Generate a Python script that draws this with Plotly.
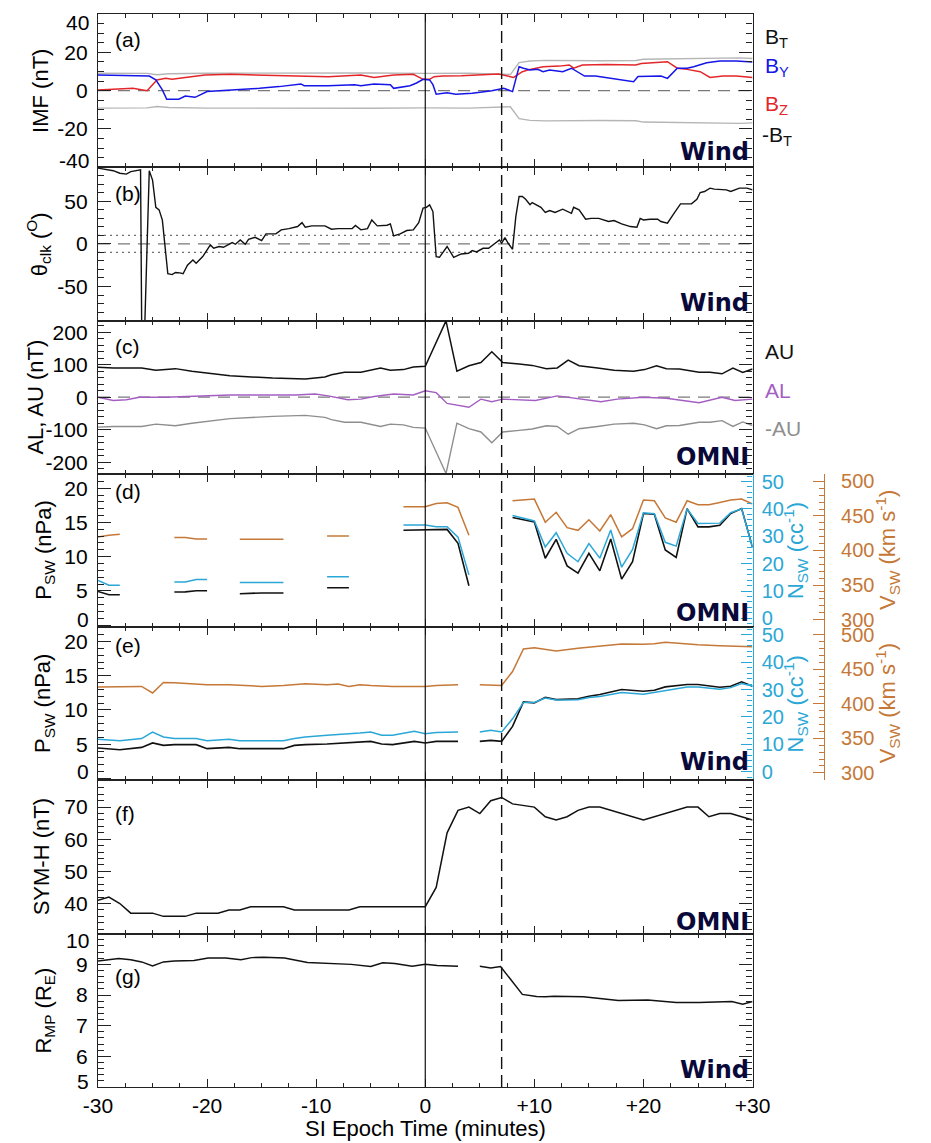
import plotly.graph_objects as go

# ---------------------------------------------------------------- data
# (a) IMF components from Wind (nT), minutes from SI epoch
by_t = [-30, -25.3, -24.7, -24.1, -23.7, -22.6, -22, -21.1, -20, -18.5, -16.7, -15.2, -13.4, -11.4,
        -11.1, -8.9, -6.5, -5.9, -4.7, -3.2, -2.9, -1.4, -0.8, -0.2, 0.4, 0.7, 1.0, 1.4, 2.0, 2.8,
        4.3, 6.1, 6.8, 7.2, 8.0, 8.6, 9.0, 9.6, 10.3, 10.8, 11.4, 12.6, 13.4, 14.6, 15.6, 16.7,
        17.7, 19.1, 19.5, 20.4, 21.6, 22.2, 23.1, 24.0, 24.6, 25.8, 27.0, 28.5, 30]
by = [8.2, 7.6, 5.6, 0.4, -4.5, -4.5, -2.8, -3.5, -0.5, 0.0, 0.4, 1.2, 2.1, 3.5,
      2.6, 2.6, 3.1, 2.6, 3.5, 3.1, 1.2, 2.6, 4.0, 5.9, 5.6, 3.1, -1.9, -1.7, -1.1, -1.9,
      -1.4, 0.0, 0.7, 1.2, -0.5, 12.5, 11.7, 10.8, 11.1, 9.9, 10.8, 9.9, 11.7, 7.6, 7.6, 6.8,
      5.9, 4.7, 7.4, 7.6, 7.6, 6.4, 11.7, 11.7, 12.5, 14.6, 15.5, 15.5, 15.0]

bz_t = [-30, -28.3, -26.8, -25.5, -25.0, -24.6, -23.8, -23.2, -22, -20.2, -17.8, -14.9, -11.9, -8.9,
        -5.9, -4.7, -2.9, -1.1, -0.2, 0.4, 0.8, 1.6, 3.3, 5.5, 6.7, 8.1, 8.9, 9.6, 10.8, 12.3,
        13.2, 13.6, 14.4, 16.6, 19.3, 19.8, 22.2, 23.1, 24.0, 25.2, 26.1, 27.3, 28.5, 30]
bz = [0.4, 0.7, 1.2, 0.0, 3.1, 5.6, 6.4, 5.9, 6.9, 8.2, 8.5, 8.2, 7.6, 7.3,
      8.2, 6.9, 8.2, 8.5, 5.9, 5.9, 7.3, 7.6, 7.8, 8.2, 8.7, 6.9, 9.9, 11.1, 12.5, 12.8,
      13.4, 11.7, 13.4, 13.7, 13.4, 14.2, 15.1, 11.7, 11.1, 9.9, 6.9, 7.6, 7.6, 6.9]

bt_t = [-30, -25.5, -24.6, -23.5, -20, -12, -5, 0, 4, 7.8, 8.6, 9.6, 11, 16, 19.3, 20, 25, 28.8, 30]
bt = [9.1, 9.0, 8.3, 8.8, 9.1, 9.3, 9.2, 9.0, 9.1, 8.4, 14.6, 15.5, 15.8, 15.6, 15.7, 16.4, 16.9, 17.1, 16.8]

# (b) IMF clock angle (deg)
clk_t = [-30.0, -29.2, -28.6, -28.0, -27.4, -27.0, -26.5, -26.1, -26.0, -25.7, -25.3, -25.0, -24.7,
         -24.4, -24.1, -23.85, -23.6, -23.2, -22.9, -22.5, -22.2, -21.8, -21.3, -21.0, -20.4, -19.7,
         -19.4, -18.9, -18.5, -17.7, -17.4, -16.96, -16.5, -16.2, -15.6, -15.0, -14.6, -13.7, -13.2,
         -12.5, -11.7, -11.3, -11.0, -10.4, -9.2, -8.6, -8.0, -6.7, -6.4, -5.9, -5.3, -4.9, -4.4,
         -3.5, -3.2, -2.9, -2.3, -1.7, -1.1, -0.6, -0.2, 0.1, 0.4, 0.7, 1.0, 1.3, 2.0, 2.6, 3.3,
         3.96, 4.3, 4.7, 5.3, 5.8, 6.4, 6.8, 7.0, 7.3, 7.6, 8.0, 8.3, 8.6, 8.9, 9.2, 9.6, 9.8,
         10.6, 11.0, 11.4, 11.9, 12.6, 13.4, 13.6, 14.1, 14.7, 15.2, 15.9, 16.8, 17.3, 18.0, 18.8,
         19.4, 19.7, 20.0, 20.6, 21.3, 21.6, 22.2, 22.8, 23.4, 24.4, 24.9, 25.2, 25.6, 26.1, 26.5,
         27.6, 28.0, 28.8, 29.5, 30.0]
clk = [89, 87, 86, 83, 82, 85, 86, 87, -90, -90, 86, 75, 43,
       40, 28, -7, -35, -36, -33.5, -34, -35, -25, -18.8, -22.7, -14.9, -1.2,
       -5, -3, -3.9, 1.6, -0.4, 4.7, -0.4, 5.5, 7.8, 3.9, 11.8, 11.8, 16.5,
       18, 20.4, 25, 19.6, 21.2, 21.2, 17.3, 18, 18, 21.6, 16.5, 18, 28.2, 21.2,
       22, 23.5, 9.4, 11.8, 15.7, 16.5, 25, 42, 43, 45.9, 38, -15, -15.7, -3, -15.7, -11.8,
       -11, -7.8, -9.4, -5.1, -5.1, 0.8, 4.7, 0.8, 7.5, 0.8, -6.3, 32, 55.7, 55.7, 52.5, 46, 48.6,
       43, 36.9, 39.2, 36.9, 40.8, 36, 43, 40, 29, 30, 30, 26.3, 27.5, 23.5, 20.4,
       19.6, 30, 28.2, 29, 29, 26.3, 24.3, 36, 47, 47, 52.5, 60.4, 61.6, 65.5, 64.3,
       63.5, 61.6, 65.5, 65.5, 63.5]

# (c) auroral electrojet indices, OMNI (nT)
au_t = [-30, -28.6, -26, -24.7, -22.9, -21.4, -17.9, -14, -11, -9.2, -8.6, -7.4, -5.9, -4.1, -3.2,
        -2, -1.1, 0, 1.9, 2.9, 4.0, 5.1, 6.1, 7.1, 8.6, 9.8, 11.1, 12.1, 13.1, 14.1, 15.8, 17.3,
        19.1, 20.1, 21.2, 22.1, 23.3, 25.1, 26.1, 27.2, 28.2, 29.1, 30]
au = [92, 90, 90, 83, 88, 80, 66, 59, 56, 62, 69, 77, 77, 90, 83,
      85, 93, 95, 235, 80, 97, 107, 140, 107, 102, 98, 88, 90, 114, 97, 90, 83,
      80, 85, 97, 88, 87, 77, 77, 72, 90, 76, 87]

al_t = [-30, -28.6, -27.4, -26.2, -23.8, -20.8, -17.9, -11.9, -10.1, -8.9, -7.1, -5.9, -4.7, -2.9,
        -1.1, 0, 1.0, 2.0, 3.0, 4.0, 5.1, 6.1, 7.1, 8.6, 10.1, 12.1, 13.1, 16.1, 17.6, 20.0, 22.1,
        25.1, 27.2, 28.4, 30]
al = [0, -10, -8, 0, 0, 4, 7, 7, 10, 4, -8, -6, 2, 10,
      7, 20, 14, -19, -25, -31, -6, -14, -6, -8, -10, 4, 0, -14, -6, 0, -3,
      -17, 0, -10, -6]

# (d) OMNI solar wind: pressure (nPa), density (cc^-1), speed (km/s); None marks a data gap
omni_t = [-30, -29, -28, -27, -23, -22, -21, -20, -19, -17, -16, -15, -14, -13, -12, -9, -8, -7, -6,
          -2, -1, 0, 1, 2, 3, 4, 5, 8, 9, 10, 11, 12, 13, 14, 15, 16, 17, 18, 19, 20, 21, 22, 23,
          24, 25, 26, 27, 28, 29, 30]
omni_p = [4.92, 4.44, 4.44, None, 4.84, 4.85, 5.02, 5.02, None, 4.59, 4.69, 4.69, 4.69, 4.69, None,
          5.46, 5.46, 5.46, None, 13.87, 13.87, 13.87, 13.87, 13.98, 11.95, 5.75, None, 15.72, 15.4,
          15.08, 9.77, 12.53, 8.65, 7.59, 10.49, 7.93, 12.57, 6.72, 9.28, 16.3, 16.2, 10.97, 9.9,
          17.02, 14.35, 14.35, 14.6, 16.3, 17.02, 11.36]
omni_n = [13.9, 12.1, 12.1, None, 13.3, 13.3, 14.2, 14.2, None, 13.1, 13.1, 13.1, 13.1, 13.1, None,
          15.2, 15.2, 15.2, None, 34.1, 34.1, 34.1, 33.5, 33.5, 29.7, 15.9, None, 37.6, 36.6,
          35.6, 26.1, 31.3, 23.8, 20.7, 27.3, 22.0, 32.3, 18.7, 25.2, 38.6, 38.2, 27.8, 26.4,
          40.0, 34.7, 34.7, 34.8, 38.6, 40.0, 25.8]
omni_v = [419.7, 422.2, 423.5, None, 418.8, 418.8, 416.8, 416.8, None, 416.4, 416.4, 416.4, 416.4,
          416.4, None, 421.1, 421.1, 421.1, None, 463.4, 463.4, 463.4, 468.1, 469.1, 462.4, 422.1,
          None, 472, 473.4, 474.4, 441, 455.3, 433.1, 429.2, 444.5, 428.2, 452, 419.7, 431.6,
          473, 472, 447.3, 441, 472, 466.3, 466.3, 469.5, 473, 474.4, 467.3]

# (e) Wind solar wind
wind_t = [-30, -28, -26, -25, -24, -23, -21, -20, -18, -17, -15, -13, -12, -11, -9, -8, -7, -6, -5,
          -4, -3, -1, 0, 1, 3, 4, 5, 6, 7, 8, 9, 10, 11, 12, 14, 15, 16, 18, 20, 21, 22, 24, 25,
          27, 28, 29, 30]
wind_p = [4.44, 4.19, 4.53, 5.18, 4.82, 4.93, 4.93, 4.34, 4.53, 4.34, 4.34, 4.34, 4.82, 4.93, 5.03,
          5.10, 5.18, 5.30, 5.41, 5.03, 4.93, 5.41, 5.18, 5.41, 5.41, None, 5.41, 5.56, 5.41, 7.6,
          11.18, 11.03, 11.85, 11.51, 11.62, 12.0, 12.25, 12.98, 12.73, 12.88, 13.37, 13.71,
          13.71, 13.32, 13.46, 14.11, 13.46]
wind_n = [11.8, 11.3, 12.1, 14.5, 12.7, 12.1, 12.1, 11.3, 11.8, 11.3, 11.3, 11.3, 12.1, 12.7, 13.3,
          13.5, 13.7, 14.1, 14.5, 13.3, 13.3, 14.8, 13.9, 14.3, 14.5, None, 14.5, 15.1, 14.5, 19.3,
          25.3, 25.3, 26.9, 26.2, 26.3, 27.1, 27.5, 28.9, 28.3, 28.9, 29.7, 30.9, 30.9, 30.1,
          30.7, 32.2, 31.3]
wind_v = [424.3, 424.3, 425.2, 415.7, 430.9, 430.4, 428.0, 427.6, 427.6, 426.5, 425.2, 426.6, 427.8,
          429.1, 427.6, 428.6, 425.2, 427.6, 426.5, 425.5, 425.2, 425.2, 425.2, 426.6, 427.6, None,
          427.6, 427.0, 426.6, 446.7, 479.4, 481.3, 479.0, 476.5, 480.4, 482.0, 484.1, 486.6,
          486.1, 487.0, 489.0, 486.1, 485.5, 484.1, 483.5, 483.0, 482.7]

# (f) SYM-H, OMNI (nT)
symh_t = [-30, -29, -28, -27, -25, -24, -22, -21, -19, -18, -17, -16, -13, -12, -7, -6, 0, 1, 2, 3,
          4, 5, 6, 7, 8, 10, 11, 12, 13, 14, 15, 16, 20, 24, 25, 26, 27, 28, 30]
symh = [41, 42, 40, 37, 37, 36, 36, 37, 37, 38, 38, 39, 39, 38, 38, 39, 39, 45, 62, 69,
        70, 68, 72, 73, 71, 70, 67, 66, 67, 69, 70, 70, 66, 70, 70, 67, 68, 68, 66]

# (g) magnetopause standoff distance from Wind (R_E); None marks a data gap
rmp_t = [-30, -28.1, -27, -26, -25, -24, -23, -21.2, -19.9, -18.3, -16.9, -15.9, -14.8, -12.9,
         -10.8, -8.4, -6.8, -5.0, -3.9, -2.8, -1.2, 0, 1.1, 3.0, 4.0, 5.0, 6.0, 6.9, 8.9, 10.2,
         11.0, 11.8, 14.5, 17.7, 20.4, 23.0, 25.1, 28.1, 29.1, 30]
rmp = [9.11, 9.19, 9.15, 9.08, 8.95, 9.08, 9.11, 9.13, 9.21, 9.21, 9.15, 9.22, 9.23, 9.21,
       9.06, 9.03, 9.0, 8.93, 9.05, 9.03, 8.94, 9.0, 8.96, 8.94, None, 8.94, 8.88, 8.93, 8.02, 7.95,
       7.94, 7.96, 7.94, 7.82, 7.84, 7.76, 7.76, 7.79, 7.70, 7.79]

x_ticks = [-30, -20, -10, 0, 10, 20, 30]
x_tick_text = ["-30", "-20", "-10", "0", "+10", "+20", "+30"]
si_onset = 0
shock_arrival = 7

# ---------------------------------------------------------------- styling
FONT = "Arial, Liberation Sans, sans-serif"
BOLD_FONT = "DejaVu Sans, Verdana, sans-serif"
BLACK = "#111111"
FRAME = "#222222"
GRAY_BT = "#b5b5b5"
BLUE = "#1515e8"
RED = "#e3262a"
PURPLE = "#a45ec2"
GRAY_AU = "#8e8e8e"
CYAN = "#2aa7d6"
ORANGE = "#c57837"
NAVY = "#08083a"

W, H = 931, 1143
ML, MT, MB = 98, 14, 56
AREA_W = W - ML
AREA_H = H - MT - MB


def fx(px):
    return (px - ML) / AREA_W


def fy(py):
    return (H - MB - py) / AREA_H


XD = fx(767)
NP = 7
dom = [[1 - (i + 1) / NP, 1 - i / NP] for i in range(NP)]


def xname(i):
    return "x" if i == 0 else f"x{i + 1}"


def yname(i):
    return "y" if i == 0 else f"y{i + 1}"


fig = go.Figure()


def line(x, y, i, color, width=1.5, yaxis=None):
    fig.add_trace(go.Scatter(x=x, y=y, mode="lines", xaxis=xname(i), yaxis=yaxis or yname(i),
                             line=dict(color=color, width=width), hoverinfo="skip"))


# (a)
line(bt_t, bt, 0, GRAY_BT, 1.4)
line(bt_t, [-v for v in bt], 0, GRAY_BT, 1.4)
line(bz_t, bz, 0, RED, 1.5)
line(by_t, by, 0, BLUE, 1.5)
# (b)
line(clk_t, clk, 1, BLACK, 1.4)
# (c)
line(au_t, [-v for v in au], 2, GRAY_AU, 1.4)
line(al_t, al, 2, PURPLE, 1.4)
line(au_t, au, 2, BLACK, 1.5)
# (d)
line(omni_t, omni_p, 3, BLACK, 1.6)
line(omni_t, omni_n, 3, CYAN, 1.5, yaxis="y8")
line(omni_t, omni_v, 3, ORANGE, 1.5, yaxis="y10")
# (e)
line(wind_t, wind_p, 4, BLACK, 1.6)
line(wind_t, wind_n, 4, CYAN, 1.5, yaxis="y9")
line(wind_t, wind_v, 4, ORANGE, 1.5, yaxis="y11")
# (f)
line(symh_t, symh, 5, BLACK, 1.5)
# (g)
line(rmp_t, rmp, 6, BLACK, 1.5)

layout = dict(width=W, height=H, margin=dict(l=ML, r=0, t=MT, b=MB),
              paper_bgcolor="white", plot_bgcolor="white", showlegend=False,
              font=dict(family=FONT, size=21, color="black"))

for i in range(NP):
    key = "xaxis" if i == 0 else f"xaxis{i + 1}"
    layout[key] = dict(domain=[0, XD], range=[-30, 30], anchor=yname(i),
                       tickmode="array", tickvals=x_ticks, ticktext=x_tick_text,
                       ticks="inside", ticklen=8, tickwidth=1.2, tickcolor=FRAME,
                       showline=True, linecolor=FRAME, linewidth=1, mirror="ticks",
                       showgrid=False, zeroline=False, showticklabels=(i == NP - 1),
                       tickfont=dict(size=21, family=FONT), ticklabelstandoff=0,
                       minor=dict(ticks="inside", ticklen=4, tickmode="linear", tick0=0, dtick=2.5,
                                  tickcolor=FRAME, tickwidth=1))


def y_axis(i, rng, vals, texts, minor_dtick, mirror=True):
    return dict(domain=dom[i], anchor=xname(i), range=rng, tickmode="array",
                tickvals=vals, ticktext=texts, ticks="inside", ticklen=13, tickwidth=1.2,
                tickcolor=FRAME, showline=True, linecolor=FRAME, linewidth=1.3,
                mirror="ticks" if mirror else False, showgrid=False, zeroline=False,
                tickfont=dict(size=21, family=FONT), ticklabelstandoff=5,
                minor=dict(ticks="inside", ticklen=6, tickmode="linear", tick0=0,
                           dtick=minor_dtick, tickcolor=FRAME, tickwidth=1))


layout["yaxis"] = y_axis(0, [-40, 40], [-40, -20, 0, 20, 40], ["", "-20", "0", "20", ""], 5)
layout["yaxis2"] = y_axis(1, [-90, 90], [-50, 0, 50], ["-50", "0", "50"], 10)
layout["yaxis3"] = y_axis(2, [-236, 236], [-200, -100, 0, 100, 200],
                          ["-200", "-100", "0", "100", "200"], 20)
layout["yaxis4"] = y_axis(3, [-0.3, 22.1], [0, 5, 10, 15, 20], ["", "5", "10", "15", "20"], 1,
                          mirror=False)
layout["yaxis5"] = y_axis(4, [-0.3, 22.1], [0, 5, 10, 15, 20], ["", "5", "10", "15", "20"], 1,
                          mirror=False)
layout["yaxis6"] = y_axis(5, [30.6, 78.3], [40, 50, 60, 70], ["40", "50", "60", "70"], 2)
layout["yaxis7"] = y_axis(6, [5, 10], [5, 6, 7, 8, 9, 10], ["", "6", "7", "8", "9", ""], 0.2)


def n_axis(i, base):
    return dict(domain=dom[i], anchor=xname(i), overlaying=base, side="right",
                range=[-3.2, 52.8], tickmode="linear", tick0=0, dtick=10,
                ticks="inside", ticklen=11, tickwidth=1.2, tickcolor=CYAN,
                showline=True, linecolor=CYAN, linewidth=1.3, showgrid=False, zeroline=False,
                tickfont=dict(size=20, family=FONT, color=CYAN), ticklabelstandoff=4,
                minor=dict(ticks="inside", ticklen=5, dtick=2, tickcolor=CYAN, tickwidth=1))


def v_axis(i, base):
    return dict(domain=dom[i], anchor="free", position=fx(840), overlaying=base, side="right",
                range=[289, 511], tickmode="linear", tick0=0, dtick=50,
                ticks="inside", ticklen=11, tickwidth=1.2, tickcolor=ORANGE,
                showline=True, linecolor=ORANGE, linewidth=1.3, showgrid=False, zeroline=False,
                tickfont=dict(size=20, family=FONT, color=ORANGE), ticklabelstandoff=12,
                minor=dict(ticks="inside", ticklen=5, dtick=10, tickcolor=ORANGE, tickwidth=1))


layout["yaxis8"] = n_axis(3, "y4")
layout["yaxis9"] = n_axis(4, "y5")
layout["yaxis10"] = v_axis(3, "y4")
layout["yaxis11"] = v_axis(4, "y5")

# ---------------------------------------------------------------- reference lines
shapes = []
for i in (0, 1, 2):
    shapes.append(dict(type="line", xref=f"{xname(i)} domain", x0=0, x1=1, yref=yname(i), y0=0, y1=0,
                       line=dict(color="#7a7a7a", width=1.3, dash="12px,8px"), layer="below"))
for lvl in (10, -10):
    shapes.append(dict(type="line", xref="x2 domain", x0=0, x1=1, yref="y2", y0=lvl, y1=lvl,
                       line=dict(color="#707070", width=1.3, dash="2px,4px"), layer="below"))
shapes.append(dict(type="line", xref="x", yref="paper", x0=si_onset, x1=si_onset, y0=0, y1=1,
                   line=dict(color=BLACK, width=1.2)))
shapes.append(dict(type="line", xref="x", yref="paper", x0=shock_arrival, x1=shock_arrival, y0=0, y1=1,
                   line=dict(color=BLACK, width=1.4, dash="12px,6px")))
layout["shapes"] = shapes

# ---------------------------------------------------------------- text
ann = []


def text(x, y, s, size=21, color="black", xanchor="center", yanchor="middle", angle=0,
         family=FONT, xref="paper", yref="paper", xshift=0, yshift=0):
    ann.append(dict(x=x, y=y, xref=xref, yref=yref, text=s, showarrow=False, xanchor=xanchor,
                    yanchor=yanchor, textangle=angle, xshift=xshift, yshift=yshift,
                    font=dict(family=family, size=size, color=color)))


# tick labels at the panel edges, nudged inside the frame
for yref, val, s, shift in [("y", 40, "40", -8), ("y", -40, "-40", 7), ("y4", 0, "0", 6),
                            ("y5", 0, "0", 7), ("y7", 10, "10", -7), ("y7", 5, "5", 6)]:
    text(0, val, s, xanchor="right", yref=yref, xshift=-7, yshift=shift)

# panel tags
for s, py in zip(["(a)", "(b)", "(c)", "(d)", "(e)", "(f)", "(g)"],
                 [39, 193, 346, 491.7, 645, 813, 976.7]):
    text(fx(113), fy(py), s, xanchor="left")

# data source tags
for s, py in [("Wind", 151.7), ("Wind", 303), ("OMNI", 456.7), ("OMNI", 613), ("Wind", 761.7),
              ("OMNI", 921.7), ("Wind", 1070)]:
    text(fx(765), fy(py), f"<b>{s}</b>", size=24, color=NAVY, xanchor="right", family=BOLD_FONT)

# left axis titles
titles = ["IMF (nT)", "θ<sub>clk</sub> (<sup>O</sup>)", "AL, AU (nT)", "P<sub>SW</sub> (nPa)",
          "P<sub>SW</sub> (nPa)", "SYM-H (nT)", "R<sub>MP</sub> (R<sub>E</sub>)"]
title_x = [39, 38, 34, 43, 43, 40, 44]
for i, (s, px) in enumerate(zip(titles, title_x)):
    text(fx(px), sum(dom[i]) / 2, s, size=22, angle=-90)

# right axis titles for the plasma panels
for i in (3, 4):
    text(fx(811), sum(dom[i]) / 2, "N<sub>SW</sub> (cc<sup>-1</sup>)", size=22, color=CYAN, angle=-90)
    text(fx(905), sum(dom[i]) / 2, "V<sub>SW</sub> (km s<sup>-1</sup>)", size=22, color=ORANGE, angle=-90)

# series labels
for s, py, c in [("B<sub>T</sub>", 38, BLACK), ("B<sub>Y</sub>", 67, BLUE), ("B<sub>Z</sub>", 105, RED)]:
    text(fx(778), fy(py), s, color=c, xanchor="left")
text(fx(775), fy(136), "-B<sub>T</sub>", color=BLACK, xanchor="left")
for s, py, c in [("AU", 351.7, BLACK), ("AL", 390, PURPLE), ("-AU", 428, GRAY_AU)]:
    text(fx(778), fy(py), s, color=c, xanchor="left")

# x axis title
text(fx(432.5), fy(1128.5), "SI Epoch Time (minutes)", size=22)

layout["annotations"] = ann
fig.update_layout(**layout)
fig.write_html("out.html")
